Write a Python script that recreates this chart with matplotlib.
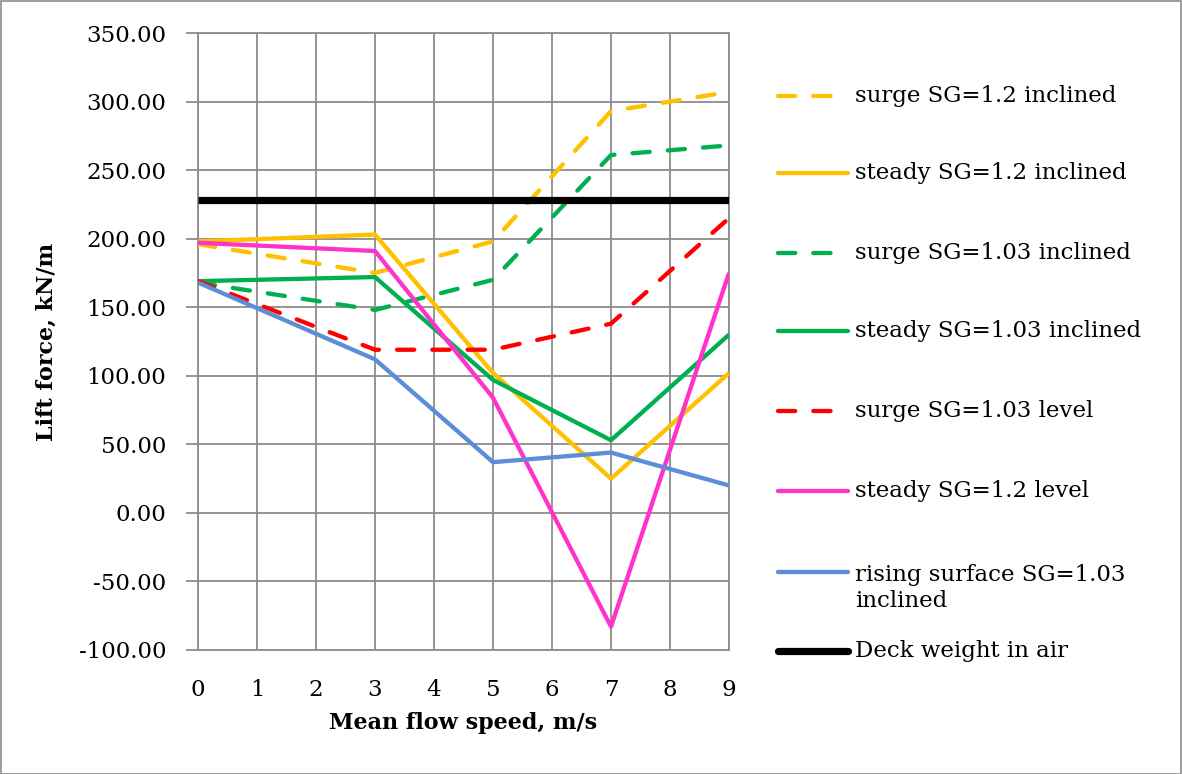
# Lift force vs mean flow speed - line chart with manual legend on the right
import matplotlib.pyplot as plt
from matplotlib.lines import Line2D
from matplotlib.patches import Rectangle

plt.rcParams['font.family'] = ['DejaVu Serif']

# ======== data ========
speed = [0, 3, 5, 7, 9]
surge_12_incl = [196, 175, 198, 293, 307]
steady_12_incl = [198, 203, 102, 25, 102]
surge_103_incl = [168, 148, 170, 261, 268]
steady_103_incl = [169, 172, 97, 53, 130]
surge_103_level = [169, 119, 119, 138, 215]
steady_12_level = [197, 191, 84, -83, 175]
rising_103_incl = [168, 112, 37, 44, 20]
deck_weight = 228.5

x_ticks = list(range(0, 10))
y_ticks = list(range(-100, 351, 50))

labels = [
    "surge SG=1.2 inclined",
    "steady SG=1.2 inclined",
    "surge SG=1.03 inclined",
    "steady SG=1.03 inclined",
    "surge SG=1.03 level",
    "steady SG=1.2 level",
    "rising surface SG=1.03\ninclined",
    "Deck weight in air",
]

# ======== styles ========
ORANGE = "#FFC000"
GREEN = "#00B050"
RED = "#FF0000"
PINK = "#FF33CC"
BLUE = "#5B8ED6"
DASH = (4.0, 4.2)
LW = 3.1

series = [
    (surge_12_incl, ORANGE, True),
    (steady_12_incl, ORANGE, False),
    (surge_103_incl, GREEN, True),
    (steady_103_incl, GREEN, False),
    (surge_103_level, RED, True),
    (steady_12_level, PINK, False),
    (rising_103_incl, BLUE, False),
]

W, H = 1182, 774
fig = plt.figure(figsize=(W / 100, H / 100), dpi=100)
ax = fig.add_axes([198 / W, 1 - 650 / H, (729 - 198) / W, (650 - 33) / H])

for vals, col, dashed in series:
    line, = ax.plot(speed, vals, color=col, linewidth=LW,
                    solid_capstyle="butt", dash_capstyle="round", zorder=3)
    if dashed:
        line.set_dashes(DASH)

ax.plot([speed[0], speed[-1]], [deck_weight, deck_weight], color="black",
        linewidth=5.2, solid_capstyle="butt", zorder=3)

ax.set_xlim(0, 9)
ax.set_ylim(-100, 350)
ax.set_xticks(x_ticks)
ax.set_yticks(y_ticks)
ax.set_yticklabels([f"{v:.2f}" for v in y_ticks])
ax.grid(True, color="#8C8C8C", linewidth=1.3, zorder=0)
for s in ax.spines.values():
    s.set_color("#8C8C8C")
    s.set_linewidth(1.3)
ax.tick_params(axis="y", direction="out", length=9, width=1.3, color="#8C8C8C",
               pad=14, labelsize=16.5)
ax.tick_params(axis="x", length=0, pad=21, labelsize=16.5)

ax.set_xlabel("Mean flow speed, m/s", fontsize=16, fontweight="bold")
ax.set_ylabel("Lift force, kN/m", fontsize=16, fontweight="bold")
ax.xaxis.set_label_coords(0.5, (650 - 723) / (650 - 33))
ax.xaxis.label.set_va("center")
ax.yaxis.set_label_coords((47 - 198) / (729 - 198), 0.5)
ax.yaxis.label.set_va("center")

# ======== legend (drawn manually) ========
leg_y = [96, 173, 253, 331, 411, 491, 572, 651]
leg_colors = [ORANGE, ORANGE, GREEN, GREEN, RED, PINK, BLUE, "black"]
leg_dashed = [True, False, True, False, True, False, False, False]
for i, lab in enumerate(labels):
    y = 1 - leg_y[i] / H
    lw = 5.2 if i == len(labels) - 1 else LW
    ln = Line2D([778 / W, 848 / W], [y, y], transform=fig.transFigure,
                color=leg_colors[i], linewidth=lw,
                solid_capstyle="round", dash_capstyle="round")
    if leg_dashed[i]:
        ln.set_dashes(DASH)
    fig.add_artist(ln)
    ty = y
    if "\n" in lab:
        ty = 1 - 588 / H
    fig.text(855 / W, ty, lab, fontsize=16.5, va="center", ha="left",
             linespacing=1.25)

# figure border
fig.add_artist(Rectangle((0.5 / W, 0.5 / H), 1 - 1.5 / W, 1 - 1.5 / H,
                         transform=fig.transFigure, fill=False,
                         edgecolor="#8C8C8C", linewidth=1.2))

fig.savefig("out.png", dpi=100)
